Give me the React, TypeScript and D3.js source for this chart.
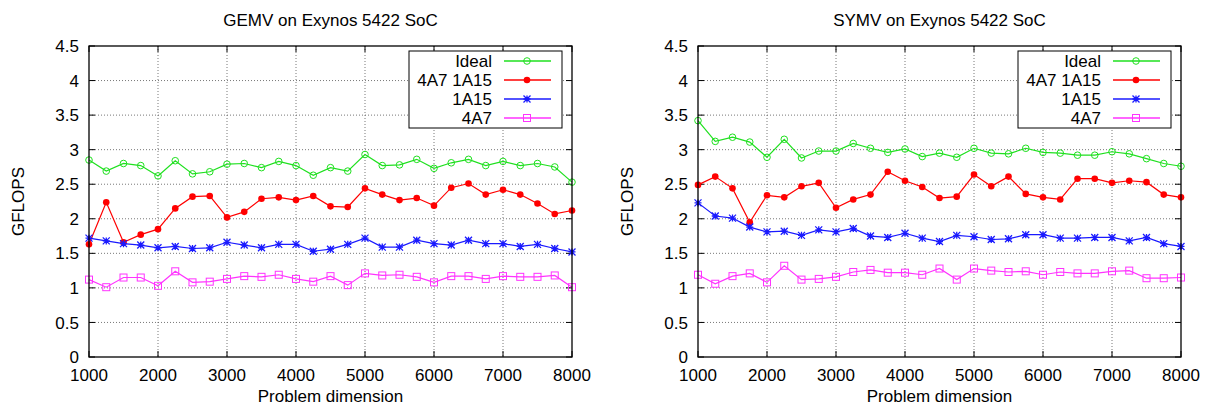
import React, { useEffect, useRef } from "react";
import * as d3 from "d3";

const sizes = [1000, 1250, 1500, 1750, 2000, 2250, 2500, 2750, 3000, 3250, 3500, 3750, 4000, 4250, 4500,
  4750, 5000, 5250, 5500, 5750, 6000, 6250, 6500, 6750, 7000, 7250, 7500, 7750, 8000];

const gemvIdeal = [2.85, 2.69, 2.80, 2.77, 2.62, 2.84, 2.65, 2.68, 2.79, 2.80, 2.74, 2.83, 2.77, 2.63, 2.74,
  2.69, 2.93, 2.77, 2.78, 2.86, 2.73, 2.81, 2.86, 2.77, 2.83, 2.77, 2.80, 2.75, 2.53];
const gemvBoth = [1.63, 2.24, 1.66, 1.77, 1.85, 2.15, 2.32, 2.33, 2.02, 2.10, 2.29, 2.31, 2.27, 2.33, 2.18,
  2.17, 2.44, 2.35, 2.27, 2.30, 2.19, 2.45, 2.51, 2.35, 2.42, 2.35, 2.22, 2.07, 2.12];
const gemvA15 = [1.72, 1.68, 1.64, 1.62, 1.58, 1.60, 1.57, 1.58, 1.66, 1.62, 1.58, 1.63, 1.63, 1.53, 1.56,
  1.63, 1.72, 1.59, 1.59, 1.69, 1.64, 1.62, 1.69, 1.64, 1.64, 1.60, 1.63, 1.57, 1.52];
const gemvA7 = [1.12, 1.01, 1.15, 1.15, 1.03, 1.24, 1.08, 1.09, 1.13, 1.17, 1.16, 1.19, 1.13, 1.09, 1.17,
  1.04, 1.21, 1.18, 1.19, 1.16, 1.08, 1.17, 1.17, 1.13, 1.17, 1.16, 1.16, 1.18, 1.01];

const symvIdeal = [3.42, 3.12, 3.18, 3.11, 2.89, 3.15, 2.88, 2.98, 2.98, 3.09, 3.02, 2.96, 3.01, 2.90, 2.95,
  2.89, 3.02, 2.95, 2.94, 3.02, 2.96, 2.95, 2.92, 2.92, 2.97, 2.94, 2.87, 2.80, 2.76];
const symvBoth = [2.49, 2.61, 2.44, 1.95, 2.34, 2.31, 2.47, 2.52, 2.16, 2.28, 2.35, 2.68, 2.55, 2.46, 2.30,
  2.32, 2.64, 2.47, 2.61, 2.36, 2.31, 2.28, 2.58, 2.58, 2.52, 2.55, 2.53, 2.35, 2.31];
const symvA15 = [2.23, 2.04, 2.01, 1.88, 1.81, 1.82, 1.76, 1.84, 1.81, 1.86, 1.75, 1.73, 1.79, 1.72, 1.67,
  1.76, 1.74, 1.70, 1.71, 1.77, 1.77, 1.72, 1.72, 1.73, 1.73, 1.68, 1.73, 1.64, 1.60];
const symvA7 = [1.19, 1.06, 1.17, 1.21, 1.08, 1.32, 1.12, 1.13, 1.16, 1.23, 1.26, 1.22, 1.22, 1.19, 1.28,
  1.12, 1.28, 1.25, 1.23, 1.24, 1.19, 1.23, 1.21, 1.21, 1.24, 1.25, 1.14, 1.14, 1.15];

const seriesNames = ["Ideal", "4A7 1A15", "1A15", "4A7"];
const seriesColors = ["#1fe01f", "#ff0000", "#1a1aff", "#ff33ff"];
const seriesMarks = ["circle", "dot", "star", "square"];
const xTicks = [1000, 2000, 3000, 4000, 5000, 6000, 7000, 8000];
const yTicks = [0, 0.5, 1, 1.5, 2, 2.5, 3, 3.5, 4, 4.5];

const panels = [
  { title: "GEMV on Exynos 5422 SoC", left: 89, series: [gemvIdeal, gemvBoth, gemvA15, gemvA7] },
  { title: "SYMV on Exynos 5422 SoC", left: 698, series: [symvIdeal, symvBoth, symvA15, symvA7] },
];

const FONT = "'Liberation Sans', Arial, Helvetica, sans-serif";

const drawMark = (g, kind, x, y, color) => {
  if (kind === "circle") {
    g.append("circle").attr("cx", x).attr("cy", y).attr("r", 3.3)
      .attr("fill", "none").attr("stroke", color).attr("stroke-width", 1);
  } else if (kind === "dot") {
    g.append("circle").attr("cx", x).attr("cy", y).attr("r", 3.3).attr("fill", color);
  } else if (kind === "square") {
    g.append("rect").attr("x", x - 3.5).attr("y", y - 3.5).attr("width", 7).attr("height", 7)
      .attr("fill", "none").attr("stroke", color).attr("stroke-width", 1);
  } else {
    const s = 3.5;
    const p = `M${x - s},${y}L${x + s},${y}M${x},${y - s}L${x},${y + s}` +
      `M${x - s},${y - s}L${x + s},${y + s}M${x - s},${y + s}L${x + s},${y - s}`;
    g.append("path").attr("d", p).attr("stroke", color).attr("stroke-width", 1.3);
  }
};

const App = () => {
  const ref = useRef(null);

  useEffect(() => {
    const svg = d3.select(ref.current);
    svg.selectAll("*").remove();
    const w = 483;
    const top = 46;
    const bottom = 357;

    panels.forEach((p) => {
      const g = svg.append("g").attr("font-family", FONT);
      const x = d3.scaleLinear().domain([1000, 8000]).range([p.left, p.left + w]);
      const y = d3.scaleLinear().domain([0, 4.5]).range([bottom, top]);

      // grid
      xTicks.slice(1, -1).forEach((t) => {
        g.append("line").attr("x1", x(t)).attr("x2", x(t)).attr("y1", top).attr("y2", bottom)
          .attr("stroke", "#555").attr("stroke-width", 0.8).attr("stroke-dasharray", "1,2");
      });
      yTicks.slice(1, -1).forEach((t) => {
        g.append("line").attr("x1", p.left).attr("x2", p.left + w).attr("y1", y(t)).attr("y2", y(t))
          .attr("stroke", "#555").attr("stroke-width", 0.8).attr("stroke-dasharray", "1,2");
      });

      // tick marks (inward, mirrored)
      xTicks.forEach((t) => {
        g.append("line").attr("x1", x(t)).attr("x2", x(t)).attr("y1", bottom).attr("y2", bottom - 6).attr("stroke", "#000");
        g.append("line").attr("x1", x(t)).attr("x2", x(t)).attr("y1", top).attr("y2", top + 6).attr("stroke", "#000");
        g.append("text").attr("x", x(t)).attr("y", 381).attr("text-anchor", "middle")
          .attr("font-size", 17).text(t);
      });
      yTicks.forEach((t) => {
        g.append("line").attr("x1", p.left).attr("x2", p.left + 6).attr("y1", y(t)).attr("y2", y(t)).attr("stroke", "#000");
        g.append("line").attr("x1", p.left + w).attr("x2", p.left + w - 6).attr("y1", y(t)).attr("y2", y(t)).attr("stroke", "#000");
        g.append("text").attr("x", p.left - 10).attr("y", y(t)).attr("dy", "0.36em").attr("text-anchor", "end")
          .attr("font-size", 17).text(t);
      });

      // series
      const line = d3.line().x((d, i) => x(sizes[i])).y((d) => y(d));
      p.series.forEach((vals, k) => {
        g.append("path").datum(vals).attr("d", line).attr("fill", "none")
          .attr("stroke", seriesColors[k]).attr("stroke-width", 1.2);
        vals.forEach((v, i) => drawMark(g, seriesMarks[k], x(sizes[i]), y(v), seriesColors[k]));
      });

      // legend
      const lx = p.left + w - 163;
      const ly = top + 5;
      g.append("rect").attr("x", lx).attr("y", ly).attr("width", 153).attr("height", 77)
        .attr("fill", "#fff").attr("stroke", "#000").attr("stroke-width", 1);
      seriesNames.forEach((name, k) => {
        const ry = ly + 10 + k * 19;
        g.append("text").attr("x", lx + 83).attr("y", ry).attr("dy", "0.36em").attr("text-anchor", "end")
          .attr("font-size", 17).text(name);
        g.append("line").attr("x1", lx + 95).attr("x2", lx + 142).attr("y1", ry).attr("y2", ry)
          .attr("stroke", seriesColors[k]).attr("stroke-width", 1.4);
        drawMark(g, seriesMarks[k], lx + 118, ry, seriesColors[k]);
      });

      // border
      g.append("rect").attr("x", p.left).attr("y", top).attr("width", w).attr("height", bottom - top)
        .attr("fill", "none").attr("stroke", "#000").attr("stroke-width", 1.3);

      // titles
      g.append("text").attr("x", p.left + w / 2).attr("y", 26).attr("text-anchor", "middle")
        .attr("font-size", 17).text(p.title);
      g.append("text").attr("x", p.left + w / 2).attr("y", 402).attr("text-anchor", "middle")
        .attr("font-size", 17).text("Problem dimension");
      g.append("text").attr("transform", `translate(${p.left - 71},${(top + bottom) / 2}) rotate(-90)`)
        .attr("dy", "0.36em").attr("text-anchor", "middle").attr("font-size", 17).text("GFLOPS");
    });
  }, []);

  return (
    <svg ref={ref} width={1208} height={408}
      style={{ position: "absolute", left: 0, top: 0, background: "#fff" }} />
  );
};

export default App;
